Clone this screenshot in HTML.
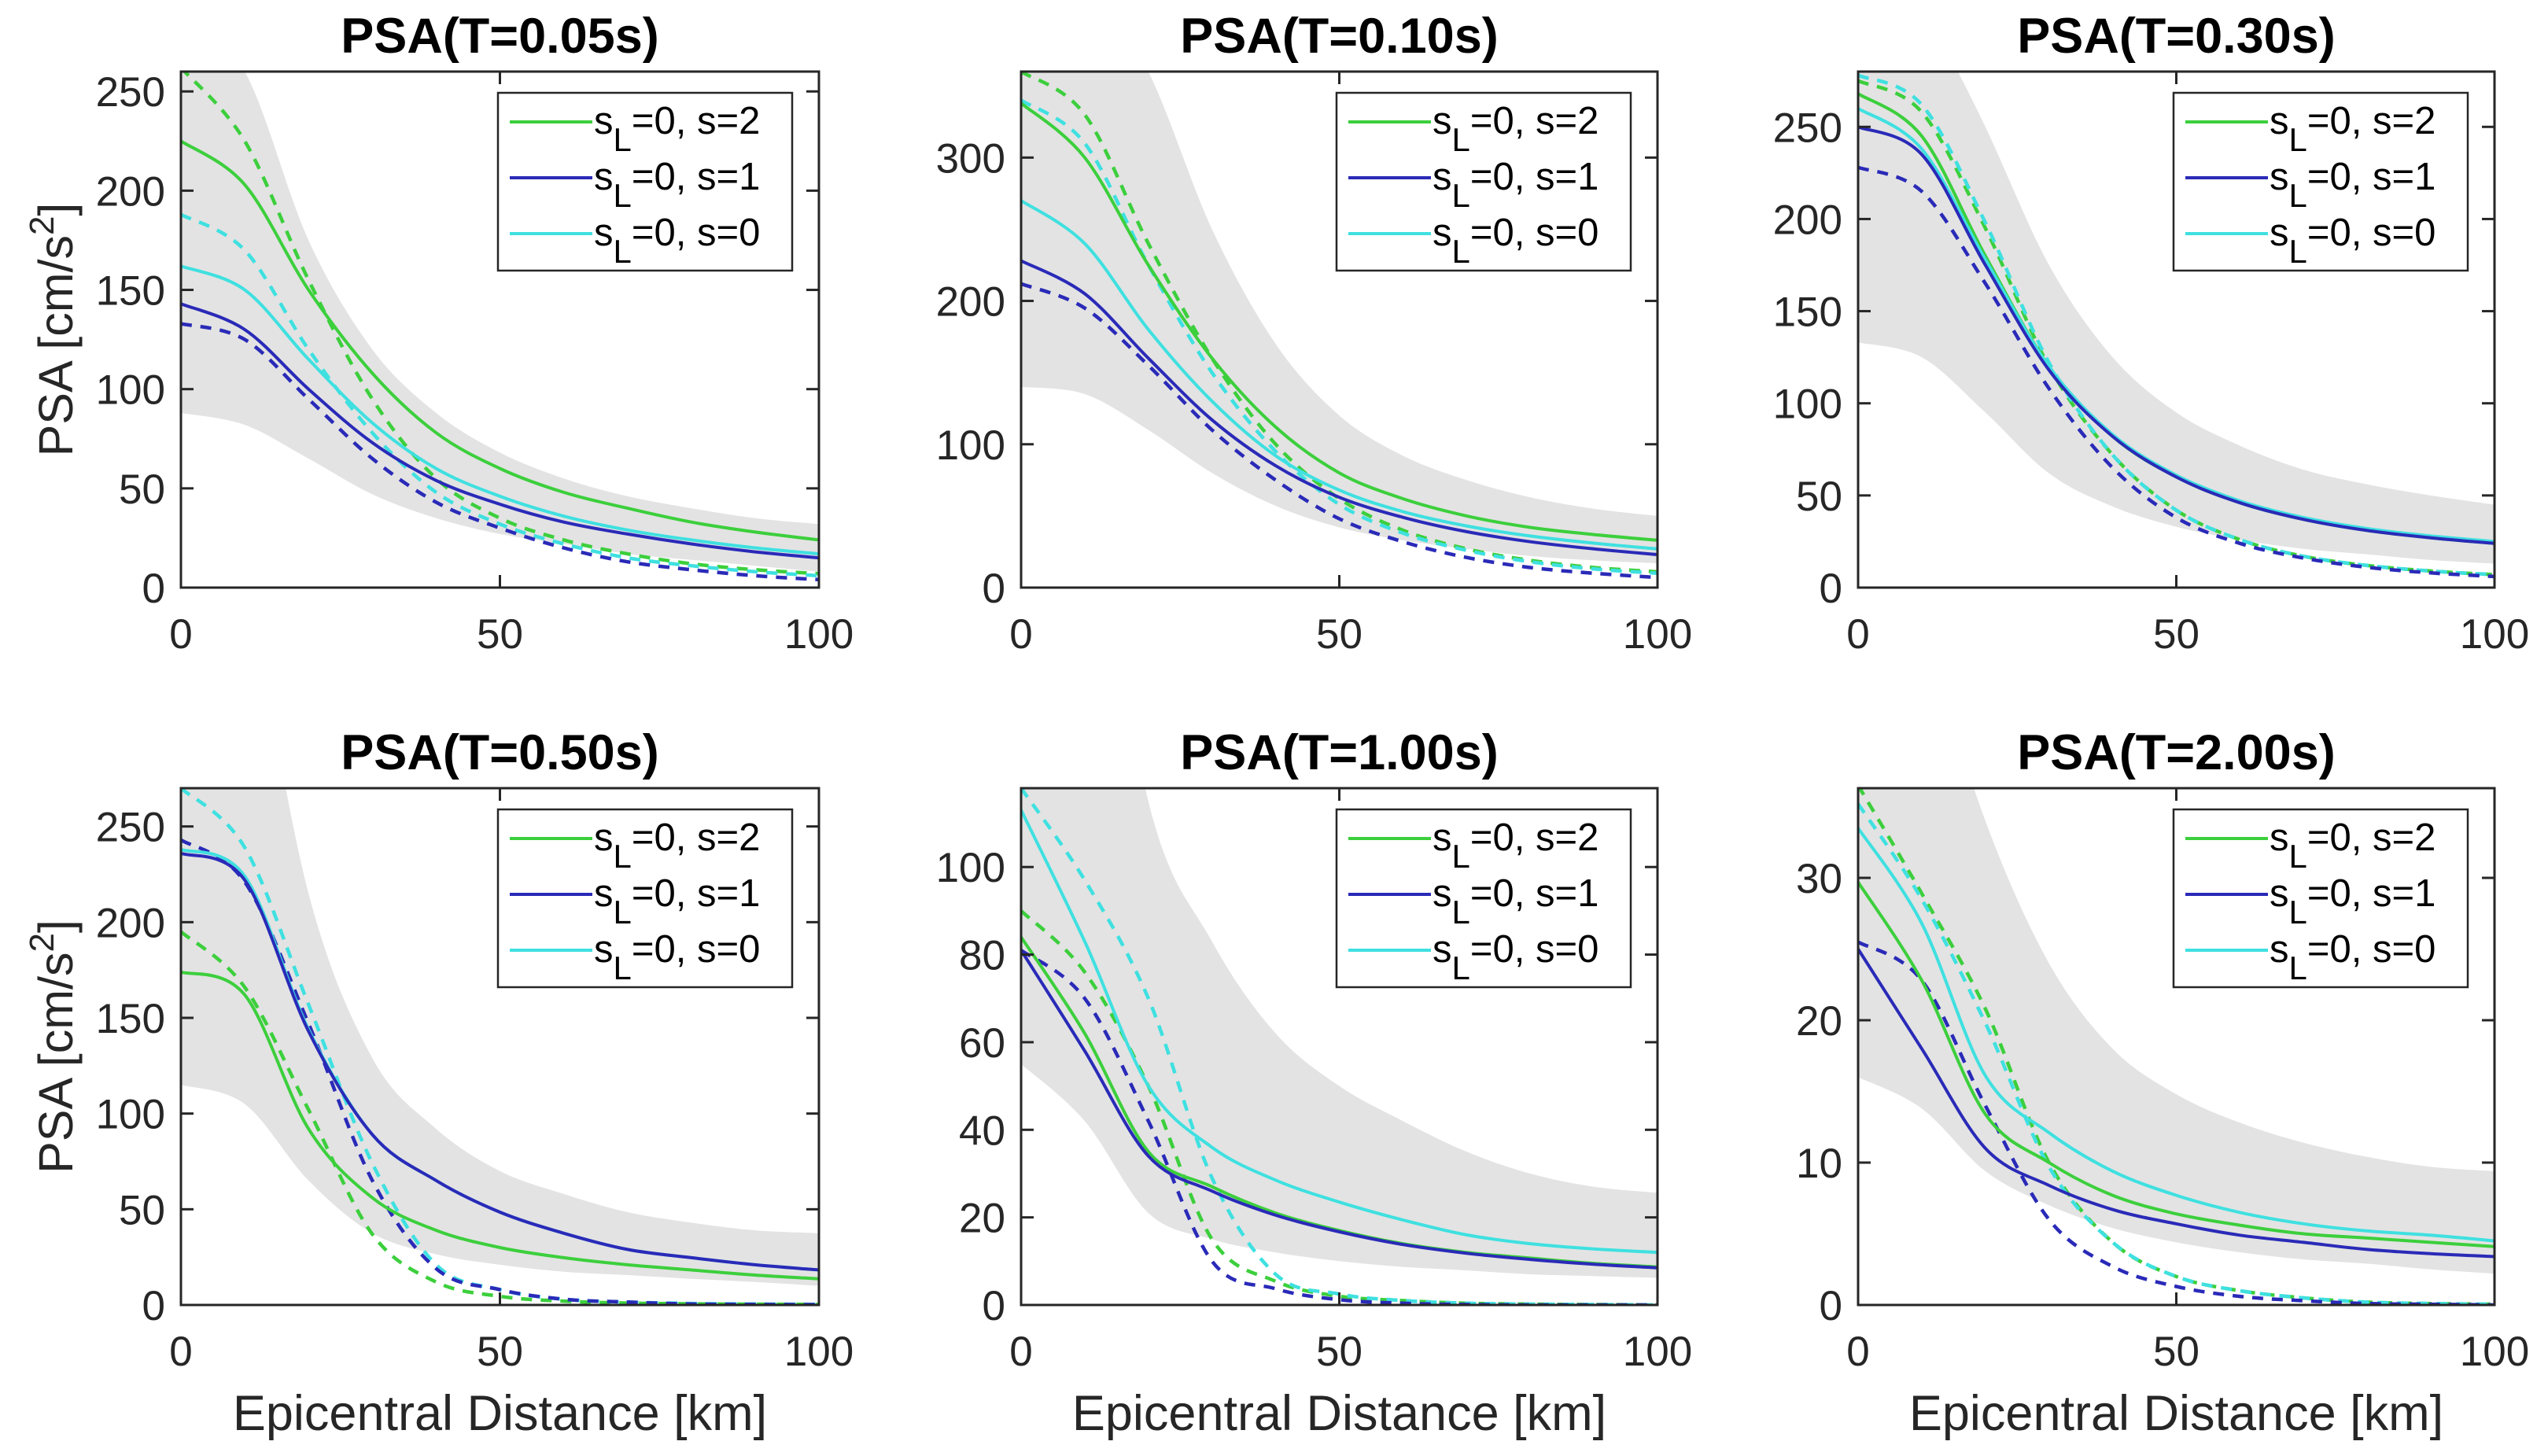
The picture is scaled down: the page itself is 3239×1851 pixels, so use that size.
<!DOCTYPE html>
<html><head><meta charset="utf-8">
<style>
html,body{margin:0;padding:0;background:#fff;}
svg{display:block;font-family:"Liberation Sans",Arial,sans-serif;}
</style></head>
<body>
<svg id="fig" width="3239" height="1851" viewBox="0 0 3239 1851" xmlns="http://www.w3.org/2000/svg"></svg>
<script>
// ---- data ----
const distances = [0,10,20,30,40,50,60,70,80,90,100];
const panelTitles = ["PSA(T=0.05s)","PSA(T=0.10s)","PSA(T=0.30s)","PSA(T=0.50s)","PSA(T=1.00s)","PSA(T=2.00s)"];
const yMax = [260,360,280,270,118,36.3];
const yTicks = [[0,50,100,150,200,250],[0,100,200,300],[0,50,100,150,200,250],[0,50,100,150,200,250],[0,20,40,60,80,100],[0,10,20,30]];
const xTicks = [0,50,100];
const legendLabels = ["=0, s=2","=0, s=1","=0, s=0"];

const bandUpper = [
 [290,260,175,120,88,68,55,46,40,35,32],
 [500,430,360,250,170,120,92,75,63,55,50],
 [400,320,250,175,125,95,77,64,56,50,45],
 [500,380,215,129,92,70,58,48.5,43,39,37.5],
 [300,200,115,83,62,50,42,35,30,27,25.6],
 [60,48,34,24,18,14.8,12.8,11.4,10.4,9.7,9.4]];
const bandLower = [
 [88,82,65,47,35,27,22,17,14,11,8],
 [140,135,110,80,57,42,33,27,22,19,17],
 [133,125,95,62,44,33,26,21,18,15,13],
 [115,105,65,37.5,26.5,21,17.4,15.6,13.7,12,10],
 [55,42,21,15,12,10,8.7,7.9,7,6.6,6.2],
 [16,13.8,9.4,7,5.4,4.4,3.7,3.2,2.9,2.5,2.2]];

const greenSolid = [
 [225,203,150,108,78,60,48,40,33,28,24],
 [338,300,225,160,112,80,62,50,42,37,33],
 [268,245,180,120,82,60,46,37,31,27,24],
 [174,162,92,56,39,30,24.7,21,18.3,15.6,13.7],
 [84,62,35,27,21,17,14,12,10.7,9.5,8.7],
 [29.7,22.8,13.4,10,7.7,6.4,5.6,5.0,4.7,4.4,4.1]];
const greenDashed = [
 [262,225,155,95,55,35,24,17,12,9,7],
 [360,330,240,160,100,62,40,27,19,14,11],
 [275,258,195,120,72,42,26,17,12,9,7],
 [195,166,102,37,12,4.5,2,1,0.6,0.4,0.3],
 [90,76,50,15,5.4,2,1,0.4,0.2,0.1,0],
 [36.5,28.9,20.8,10,4.4,2,1,0.5,0.2,0.1,0.05]];
const cyanSolid = [
 [162,150,115,83,60,46,36,29,24,20,17],
 [270,240,180,130,92,68,53,43,36,31,27],
 [260,238,178,120,83,61,47,38,32,28,25],
 [238,224,144,89,65,48.5,37.5,29,24.7,21,18.3],
 [113,83,50,36,28.5,23.5,19.4,16,14,12.8,12],
 [33.5,26.8,16.1,12.1,9.4,7.7,6.5,5.7,5.2,4.9,4.5]];
const cyanDashed = [
 [188,170,120,78,48,32,22,15,11,8,6],
 [340,310,225,150,95,58,38,26,18,13,10],
 [278,262,198,122,72,42,26,17,12,9,7],
 [270,239,157,74,21,8,3,1.5,0.8,0.5,0.3],
 [118,97,70,29,7,2.5,1,0.4,0.2,0.1,0],
 [35.2,28.5,19.8,9.7,4.4,2,1,0.5,0.2,0.1,0.05]];
const blueSolid = [
 [143,130,100,73,54,42,33,27,22,18,15],
 [228,205,160,117,85,63,49,39,32,27,23],
 [250,235,175,118,82,60,46,37,31,27,24],
 [236,222,143,89,65,48.5,37.5,29,24.7,21,18.3],
 [81,58,34,26,20.5,16.7,13.8,11.8,10.4,9.3,8.5],
 [25,18,11,8.4,6.7,5.7,4.9,4.4,3.9,3.6,3.4]];
const blueDashed = [
 [133,125,95,65,43,30,20,13,9,6,4],
 [212,195,155,110,75,48,32,21,14,10,7],
 [228,215,165,108,65,38,24,16,11,8,6],
 [243,221,147,65,19,8,3,1.5,0.5,0.3,0.2],
 [81,70,42,10,3.7,1.2,0.4,0.1,0,0,0],
 [25.5,22.8,14,6,2.7,1.3,0.6,0.3,0.1,0.05,0]];

// ---- layout ----
const colL = [230,1298,2362], colR = [1041,2107,3171];
const rowT = [91,1002], rowB = [747,1659];
const GREEN="#3ccf3c", BLUE="#2a2ab8", CYAN="#3fe0e0", BAND="#e3e3e3";
const NS="http://www.w3.org/2000/svg";
const svg=document.getElementById('fig');
function mk(tag,attrs,parent){const e=document.createElementNS(NS,tag);for(const k in attrs)e.setAttribute(k,attrs[k]);(parent||svg).appendChild(e);return e;}

function smoothPath(pts){
  let d="M"+pts[0][0].toFixed(1)+","+pts[0][1].toFixed(1);
  for(let i=0;i<pts.length-1;i++){
    const p0=pts[Math.max(0,i-1)],p1=pts[i],p2=pts[i+1],p3=pts[Math.min(pts.length-1,i+2)];
    const c1=[p1[0]+(p2[0]-p0[0])/6,p1[1]+(p2[1]-p0[1])/6];
    const c2=[p2[0]-(p3[0]-p1[0])/6,p2[1]-(p3[1]-p1[1])/6];
    d+="C"+c1[0].toFixed(1)+","+c1[1].toFixed(1)+" "+c2[0].toFixed(1)+","+c2[1].toFixed(1)+" "+p2[0].toFixed(1)+","+p2[1].toFixed(1);
  }
  return d;
}

for(let p=0;p<6;p++){
  const c=p%3,r=Math.floor(p/3);
  const L=colL[c],R=colR[c],T=rowT[r],B=rowB[r];
  const xs=v=>L+(v/100)*(R-L);
  const ys=v=>B-(v/yMax[p])*(B-T);
  const g=mk('g',{});
  
  
  const clip=mk('clipPath',{id:'clip'+p},g);
  mk('rect',{x:L,y:T,width:R-L,height:B-T},clip);
  const plot=mk('g',{'clip-path':'url(#clip'+p+')'},g);
  const up=distances.map((d,i)=>[xs(d),ys(bandUpper[p][i])]);
  const lo=distances.map((d,i)=>[xs(d),ys(bandLower[p][i])]).reverse();
  const loPath=smoothPath(lo).replace(/^M/,"L");
  const band=mk('path',{d:smoothPath(up)+loPath+"Z",fill:BAND,stroke:"none"},plot);
  
  
  const series=[[greenDashed,GREEN,true,'green-dashed'],[cyanDashed,CYAN,true,'cyan-dashed'],[blueDashed,BLUE,true,'blue-dashed'],
                [greenSolid,GREEN,false,'green-solid'],[cyanSolid,CYAN,false,'cyan-solid'],[blueSolid,BLUE,false,'blue-solid']];
  series.forEach(s=>{
    const pts=distances.map((d,i)=>[xs(d),ys(s[0][p][i])]);
    const a={d:smoothPath(pts),fill:"none",stroke:s[1],"stroke-width":s[2]?4.5:4};
    if(s[2])a["stroke-dasharray"]="14,11";
    const e=mk('path',a,plot);
    
    
  });
  const box=mk('rect',{x:L,y:T,width:R-L,height:B-T,fill:"none",stroke:"#262626","stroke-width":3},g);
  
  
  yTicks[p].forEach(t=>{
    const y=ys(t);
    mk('line',{x1:L,x2:L+16,y1:y,y2:y,stroke:"#262626","stroke-width":3},g);
    mk('line',{x1:R,x2:R-16,y1:y,y2:y,stroke:"#262626","stroke-width":3},g);
    const tl=mk('text',{x:L-20,y:y+19,"text-anchor":"end","font-size":53,fill:"#262626"},g);
    tl.textContent=t;
    
    
  });
  xTicks.forEach(t=>{
    const x=xs(t);
    mk('line',{x1:x,x2:x,y1:B,y2:B-16,stroke:"#262626","stroke-width":3},g);
    mk('line',{x1:x,x2:x,y1:T,y2:T+16,stroke:"#262626","stroke-width":3},g);
    const tl=mk('text',{x:x,y:B+77,"text-anchor":"middle","font-size":53,fill:"#262626"},g);
    tl.textContent=t;
    
    
  });
  const title=mk('text',{x:(L+R)/2,y:T-24,"text-anchor":"middle","font-size":63,"font-weight":"bold",fill:"#000"},g);
  title.textContent=panelTitles[p];
  
  
  const lg=mk('g',{},g);
  
  
  const lx=R-408,ly=T+27;
  mk('rect',{x:lx,y:ly,width:374,height:226,fill:"#fff",stroke:"#262626","stroke-width":2.5},lg);
  const lcols=[GREEN,BLUE,CYAN];
  for(let i=0;i<3;i++){
    const cy=ly+37+i*71;
    const ln=mk('line',{x1:lx+15,x2:lx+120,y1:cy,y2:cy,stroke:lcols[i],"stroke-width":4},lg);
    
    
    const tx=mk('text',{x:lx+122,y:cy+15,"font-size":49,fill:"#000"},lg);
    
    
    const s1=mk('tspan',{},tx);s1.textContent="s";
    const s2=mk('tspan',{dy:22,"font-size":42},tx);s2.textContent="L";
    const s3=mk('tspan',{dy:-22},tx);s3.textContent=legendLabels[i];
  }
}
for(let r=0;r<2;r++){
  const cy=(rowT[r]+rowB[r])/2;
  const yl=mk('text',{x:0,y:0,transform:"translate(92,"+cy+") rotate(-90)","text-anchor":"middle","font-size":61,fill:"#262626"});
  
  
  const a=mk('tspan',{},yl);a.textContent="PSA [cm/s";
  const b=mk('tspan',{dy:-24,"font-size":44},yl);b.textContent="2";
  const d=mk('tspan',{dy:24},yl);d.textContent="]";
}
for(let c=0;c<3;c++){
  const xl=mk('text',{x:(colL[c]+colR[c])/2,y:1818,"text-anchor":"middle","font-size":63,fill:"#262626"});
  xl.textContent="Epicentral Distance [km]";
  
  
}
</script>
</body></html>
